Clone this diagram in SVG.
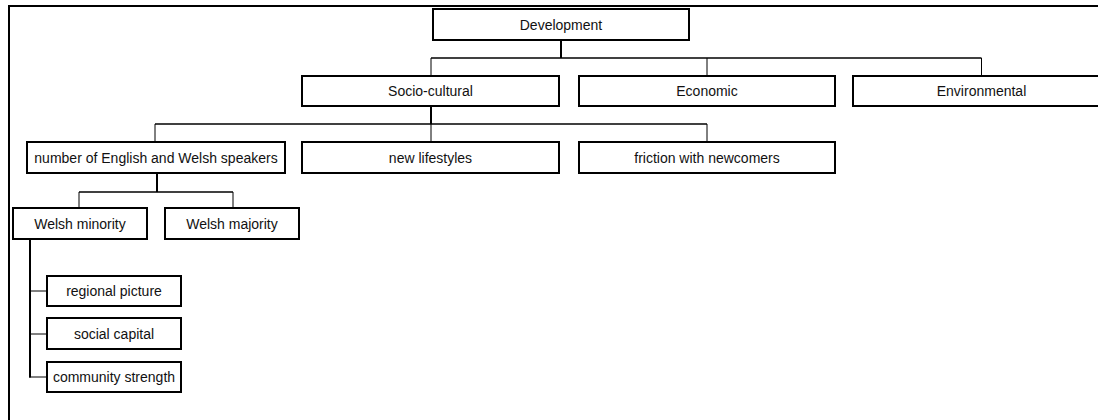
<svg xmlns="http://www.w3.org/2000/svg" width="1098" height="420" viewBox="0 0 1098 420">
  <style>
    .box { fill: #fff; stroke: #000; stroke-width: 2; }
    .lbl { font-family: "Liberation Sans", Arial, sans-serif; font-size: 14px; fill: #111; text-anchor: middle; }
    .trunk { stroke: #000; stroke-width: 2; fill: none; }
    .bus { stroke: #000; stroke-width: 1.5; fill: none; }
    .drop { stroke: #000; stroke-width: 1; fill: none; }
  </style>
  <rect x="0" y="0" width="1098" height="420" fill="#fff"/>
  <rect id="frame" x="9" y="6" width="1100" height="430" fill="none" stroke="#000" stroke-width="2"/>

  <g id="connectors">
    <line class="trunk" x1="561" y1="40" x2="561" y2="58"/>
    <line class="bus" x1="431" y1="58" x2="981.5" y2="58"/>
    <line class="drop" x1="431" y1="58" x2="431" y2="76"/>
    <line class="drop" x1="707" y1="58" x2="707" y2="76"/>
    <line class="drop" x1="981.5" y1="58" x2="981.5" y2="76"/>

    <line class="trunk" x1="431" y1="106" x2="431" y2="124"/>
    <line class="bus" x1="155" y1="124" x2="707" y2="124"/>
    <line class="drop" x1="155" y1="124" x2="155" y2="142"/>
    <line class="drop" x1="431" y1="124" x2="431" y2="142"/>
    <line class="drop" x1="707" y1="124" x2="707" y2="142"/>

    <line class="trunk" x1="157" y1="173" x2="157" y2="192"/>
    <line class="bus" x1="79" y1="192" x2="233" y2="192"/>
    <line class="drop" x1="79" y1="192" x2="79" y2="208"/>
    <line class="drop" x1="233" y1="192" x2="233" y2="208"/>

    <line class="trunk" x1="30" y1="239" x2="30" y2="377.5"/>
    <line class="drop" x1="30" y1="291" x2="47" y2="291"/>
    <line class="drop" x1="30" y1="334" x2="47" y2="334"/>
    <line class="drop" x1="29" y1="377" x2="47" y2="377"/>
  </g>

  <g id="development">
    <rect class="box" x="433" y="9" width="256" height="31"/>
    <text class="lbl" x="561" y="29.5">Development</text>
  </g>
  <g id="socio-cultural">
    <rect class="box" x="302" y="76" width="257" height="30"/>
    <text class="lbl" x="430.5" y="96">Socio-cultural</text>
  </g>
  <g id="economic">
    <rect class="box" x="579" y="76" width="256" height="30"/>
    <text class="lbl" x="707" y="96">Economic</text>
  </g>
  <g id="environmental">
    <rect class="box" x="853" y="76" width="257" height="30"/>
    <text class="lbl" x="981.5" y="96">Environmental</text>
  </g>

  <g id="speakers">
    <rect class="box" x="27" y="142" width="258" height="31"/>
    <text class="lbl" x="156" y="162.5">number of English and Welsh speakers</text>
  </g>
  <g id="lifestyles">
    <rect class="box" x="302" y="142" width="257" height="31"/>
    <text class="lbl" x="430.5" y="162.5">new lifestyles</text>
  </g>
  <g id="friction">
    <rect class="box" x="579" y="142" width="256" height="31"/>
    <text class="lbl" x="707" y="162.5">friction with newcomers</text>
  </g>

  <g id="welsh-minority">
    <rect class="box" x="13" y="208" width="134" height="31"/>
    <text class="lbl" x="80" y="228.5">Welsh minority</text>
  </g>
  <g id="welsh-majority">
    <rect class="box" x="165" y="208" width="134" height="31"/>
    <text class="lbl" x="232" y="228.5">Welsh majority</text>
  </g>

  <g id="regional-picture">
    <rect class="box" x="47" y="276" width="134" height="30"/>
    <text class="lbl" x="114" y="296">regional picture</text>
  </g>
  <g id="social-capital">
    <rect class="box" x="47" y="318" width="134" height="31"/>
    <text class="lbl" x="114" y="338.5">social capital</text>
  </g>
  <g id="community-strength">
    <rect class="box" x="47" y="362" width="134" height="30"/>
    <text class="lbl" x="114" y="382">community strength</text>
  </g>
</svg>
